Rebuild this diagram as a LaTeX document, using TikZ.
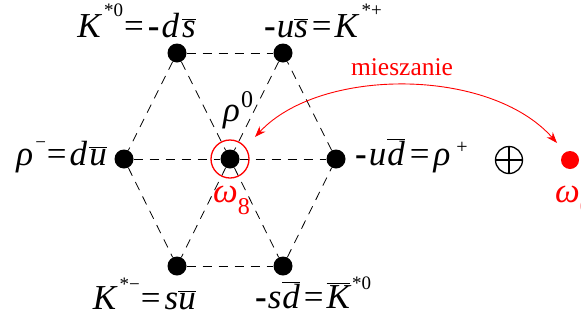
\documentclass[tikz,border=0pt]{standalone}
\usepackage{fontspec}
\newfontfamily\tms{Liberation Serif}
\usetikzlibrary{arrows.meta}
\newcommand\ob[1]{$\overline{\mbox{\itshape #1}}$}
\newcommand\spx[3]{\raisebox{#1}{\fontsize{#2}{#2}\selectfont #3}}
\newcommand\mn{\textbf{-}}
\begin{document}
\begin{tikzpicture}[x=1pt,y=-1pt,
  dot/.style={circle,fill=black,inner sep=0pt,minimum size=19pt},
  lbl/.style={inner sep=0pt,font=\tms\fontsize{35}{40}\selectfont},
  dline/.style={dash pattern=on 9pt off 7pt,line width=0.8pt},
  redarr/.style={red,line width=0.9pt,{Stealth[length=11pt,width=8pt]}-{Stealth[length=11pt,width=8pt]}}]
\useasboundingbox (0,0) rectangle (581,322);
% dots
\node[dot] (TL) at (177,53) {};
\node[dot] (TR) at (283,53) {};
\node[dot] (L) at (124,159) {};
\node[dot] (C) at (230,159) {};
\node[dot] (R) at (336,159) {};
\node[dot] (BL) at (177,266) {};
\node[dot] (BR) at (283,266) {};
% dashed lines
\draw[dline] (TL) -- (TR);
\draw[dline] (TL) -- (L);
\draw[dline] (L) -- (BL);
\draw[dline] (BL) -- (BR);
\draw[dline] (BR) -- (R);
\draw[dline] (R) -- (TR);
\draw[dline] (L) -- (C);
\draw[dline] (C) -- (R);
\draw[dline] (TL) -- (C);
\draw[dline] (C) -- (BR);
\draw[dline] (TR) -- (C);
\draw[dline] (C) -- (BL);
% red ring
\node[circle,draw=red,line width=1.3pt,inner sep=0pt,minimum size=38pt] (ring) at (C) {};
% labels
\node[lbl,anchor=base east] (lTL) at (196,37) {\textit{K}\kern2pt\spx{21pt}{19}{*0}\kern1pt=\kern4pt\mn\kern2pt\textit{d}\kern3pt\ob{s}};
\node[lbl,anchor=base west] (lTR) at (264,37) {\mn\kern1pt\textit{u}\ob{s}\kern4pt=\kern3pt\textit{K}\kern2pt\spx{21pt}{19}{*+}};
\node[lbl,anchor=base east] (lL) at (107,165) {\textit{ρ}\kern2pt\spx{17pt}{19}{−}\kern1pt=\kern3pt\textit{d}\kern2pt\ob{u}};
\node[lbl,anchor=base west] (lR) at (355,165) {\mn\kern2pt\textit{u}\kern1pt\ob{d}\kern5pt=\kern4pt\textit{ρ}\kern6pt\spx{12pt}{20}{+}};
\node[lbl,anchor=base east] (lBL) at (196,309) {\textit{K}\kern2pt\spx{19pt}{19}{*−}\kern1pt=\kern4pt\textit{s}\ob{u}};
\node[lbl,anchor=base west] (lBR) at (255,308) {\mn\kern1pt\textit{s}\kern1pt\ob{d}\kern4pt=\kern3pt\ob{K}\kern2pt\spx{19pt}{19}{*0}};
\node[lbl,anchor=base west] (rho0) at (223,121) {\textit{ρ}\kern1pt\spx{14pt}{24}{0}};
\node[lbl,anchor=base west,text=red] (w8) at (213,202) {\textit{ω}\spx{-12pt}{24}{8}};
% oplus
\node[circle,draw,line width=1.3pt,inner sep=0pt,minimum size=27pt] (plus) at (509,160) {};
\draw[line width=1.3pt] (plus.north) -- (plus.south);
\draw[line width=1.3pt] (plus.west) -- (plus.east);
% omega 0
\node[dot,fill=red,minimum size=18pt] (w0) at (570,160) {};
\node[lbl,anchor=base west,text=red] (w0l) at (555,202) {\textit{ω}\spx{-12pt}{24}{0}};
% mixing arrow
\coordinate (a1) at (255,137);
\coordinate (a2) at (557,143);
\draw[redarr] (a1) .. controls (320,67) and (490,67) .. (a2);
\node[text=red,inner sep=0pt,anchor=base,font=\tms\fontsize{25.5}{30}\selectfont] (mix) at (402,75) {mieszanie};
\end{tikzpicture}
\end{document}
